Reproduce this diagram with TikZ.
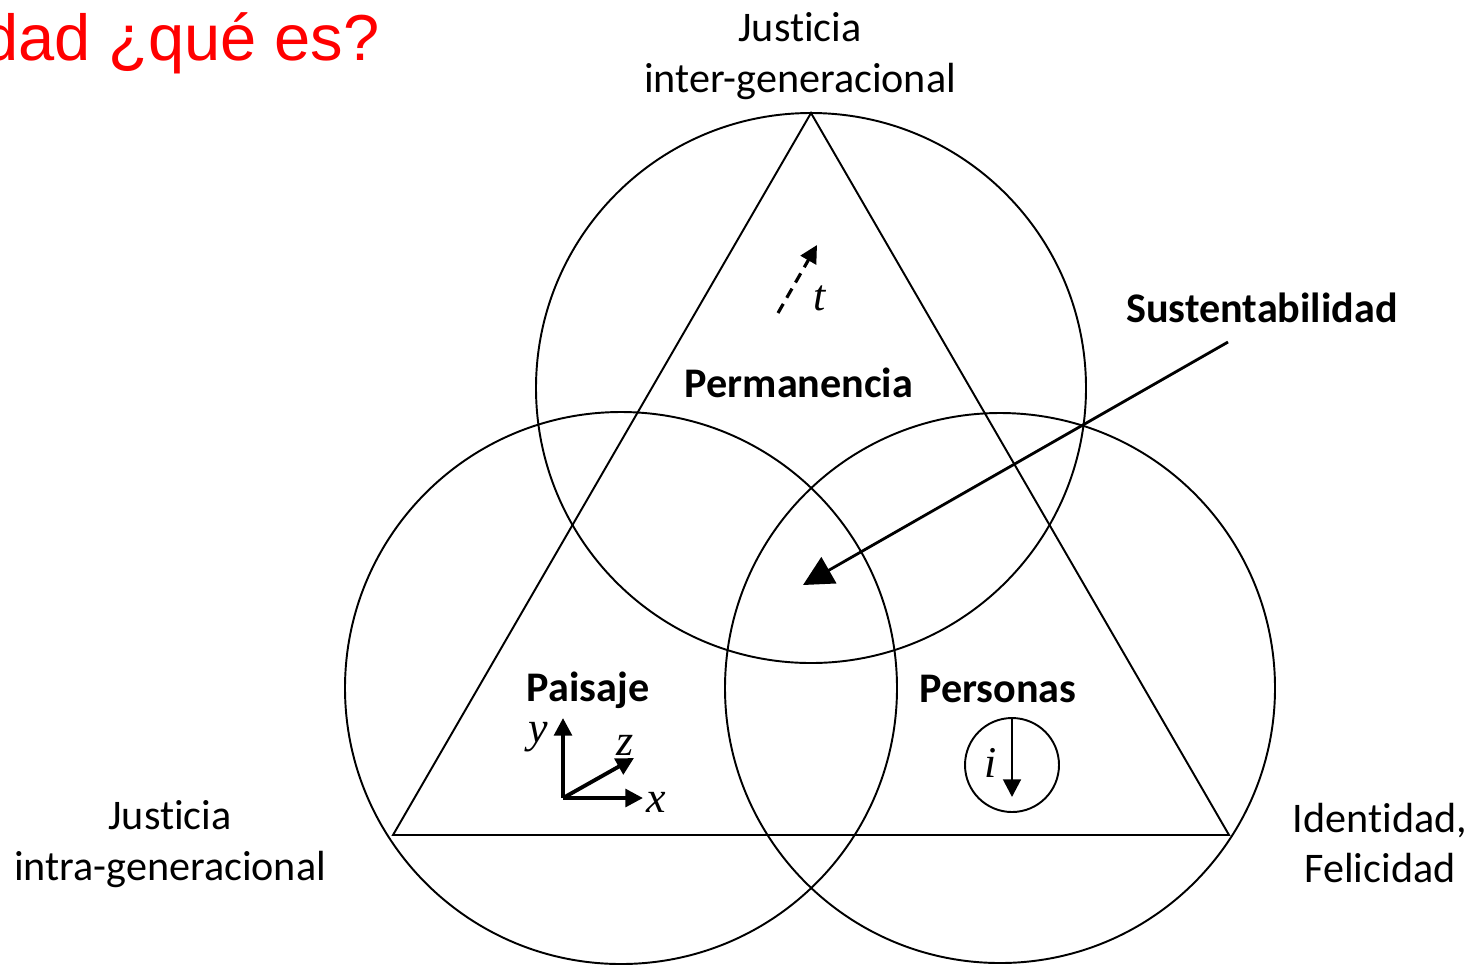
\documentclass[tikz,border=0pt]{standalone}
\usepackage{fontspec}
\setmainfont[Ligatures=NoCommon]{Carlito}
\newfontfamily\titlefont{Liberation Sans}
\newfontfamily\varfont{Liberation Serif}
\usetikzlibrary{arrows.meta}
\tikzset{
  lbl/.style={font=\fontsize{24}{29}\selectfont, align=center, inner sep=0pt},
  blbl/.style={lbl, font=\fontsize{24}{29}\selectfont\bfseries},
  var/.style={font=\fontsize{25}{29}\selectfont\varfont\itshape, inner sep=0pt},
  ring/.style={line width=1.1pt},
  tip/.style={-{Triangle[length=10pt,width=10pt]}},
}
\begin{document}
\begin{tikzpicture}[x=0.02cm,y=-0.02cm]
\useasboundingbox (0,0) rectangle (1473,965);
\node[anchor=base east, inner sep=0pt, text=red, font=\fontsize{37}{40}\selectfont\titlefont] (title) at (380,60) {dad ¿qué es?};
% tres circulos
\draw[ring] (811,388) circle[radius=275];
\draw[ring] (621,688) circle[radius=276];
\draw[ring] (1000,688) circle[radius=275];
% triangulo
\coordinate (apex) at (811,113);
\coordinate (bl) at (393,835);
\coordinate (br) at (1229,835);
\draw[ring] (apex) -- (bl) -- (br) -- cycle;
% textos
\node[lbl] (inter) at (800,56) {Justicia\\inter-generacional};
\node[lbl] (intra) at (170,844) {Justicia\\intra-generacional};
\node[lbl] (ident) at (1380,843) {Identidad,\\Felicidad};
\node[blbl] (sust) at (1262,308) {Sustentabilidad};
\node[blbl] (perm) at (799,383) {Permanencia};
\node[blbl] (pais) at (588,690) {Paisaje};
\node[blbl] (pers) at (998,689) {Personas};
% flecha sustentabilidad
\coordinate (s0) at (1228,342);
\coordinate (s1) at (803,585);
\draw[line width=1.6pt, -{Triangle[length=17pt,width=17pt]}] (s0) -- (s1);
% tiempo
\coordinate (t0) at (778,313);
\coordinate (t1) at (817,245);
\draw[line width=1.8pt, dash pattern=on 6pt off 4pt, tip] (t0) -- (t1);
\node[var] (tl) at (820,298) {t};
% ejes
\coordinate (o) at (563,798);
\coordinate (ey) at (563,718);
\coordinate (ex) at (643,798);
\coordinate (ez) at (634,758);
\draw[line width=2.2pt, tip] (o) -- (ey);
\draw[line width=2.2pt, tip] (o) -- (ex);
\draw[line width=2.2pt, tip] (o) -- (ez);
\node[var] (yl) at (538,737) {y};
\node[var] (zl) at (625,745) {z};
\node[var] (xl) at (656,802) {x};
% individuo
\draw[ring] (1012,765) circle[radius=47];
\coordinate (i0) at (1012,718);
\coordinate (i1) at (1012,797);
\draw[line width=1.6pt, tip] (i0) -- (i1);
\node[var] (il) at (991,763) {i};
\end{tikzpicture}
\end{document}
